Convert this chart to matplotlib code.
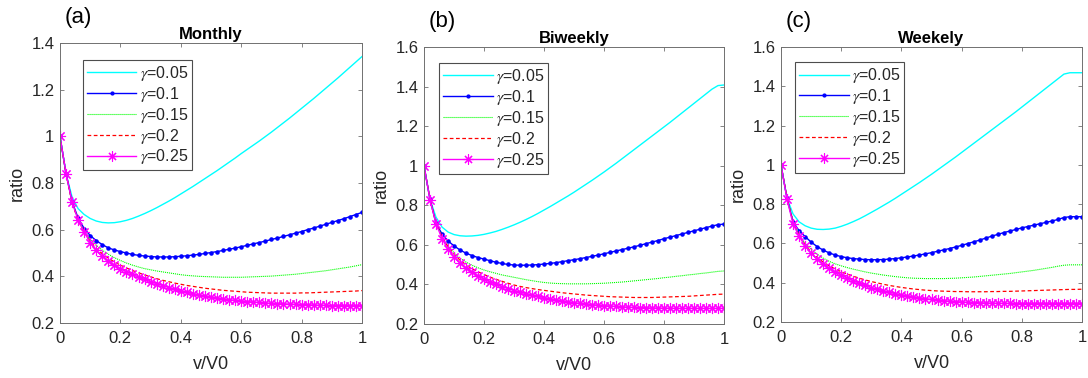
import numpy as np
import matplotlib
matplotlib.use("Agg")
import matplotlib.pyplot as plt
from matplotlib.ticker import FuncFormatter

plt.rcParams['font.family'] = ['Liberation Sans', 'DejaVu Sans']
plt.rcParams['mathtext.fontset'] = 'stix'

# v/V0 sample grid (marker spacing 0.02)
x = np.linspace(0, 1, 51)

gammas = ["0.05", "0.1", "0.15", "0.2", "0.25"]
titles = ["Monthly", "Biweekly", "Weekely"]
panel_tags = ["(a)", "(b)", "(c)"]
xticks = [0, 0.2, 0.4, 0.6, 0.8, 1]
yticks_a = [0.2, 0.4, 0.6, 0.8, 1.0, 1.2, 1.4]
yticks_bc = [0.2, 0.4, 0.6, 0.8, 1.0, 1.2, 1.4, 1.6]

# ---------------- Panel (a) Monthly ----------------
a_g005 = [1.000, 0.840, 0.740, 0.690, 0.665, 0.648, 0.637, 0.631, 0.629, 0.630,
          0.634, 0.640, 0.648, 0.658, 0.669, 0.681, 0.694, 0.708, 0.722, 0.737,
          0.753, 0.769, 0.785, 0.802, 0.819, 0.836, 0.853, 0.871, 0.889, 0.907,
          0.926, 0.944, 0.962, 0.980, 0.999, 1.018, 1.038, 1.058, 1.078, 1.099,
          1.120, 1.141, 1.162, 1.184, 1.206, 1.228, 1.250, 1.273, 1.296, 1.319,
          1.342]
a_g010 = [1.000, 0.840, 0.720, 0.650, 0.605, 0.575, 0.553, 0.536, 0.522, 0.513,
          0.506, 0.500, 0.494, 0.490, 0.487, 0.485, 0.483, 0.483, 0.483, 0.484,
          0.486, 0.488, 0.491, 0.494, 0.498, 0.502, 0.506, 0.511, 0.516, 0.521,
          0.527, 0.533, 0.539, 0.545, 0.551, 0.558, 0.564, 0.571, 0.578, 0.585,
          0.592, 0.600, 0.607, 0.615, 0.623, 0.631, 0.639, 0.647, 0.656, 0.665,
          0.674]
a_g015 = [1.000, 0.840, 0.717, 0.643, 0.595, 0.560, 0.533, 0.512, 0.495, 0.480,
          0.468, 0.457, 0.448, 0.440, 0.433, 0.428, 0.423, 0.419, 0.415, 0.411,
          0.407, 0.404, 0.402, 0.400, 0.399, 0.398, 0.397, 0.396, 0.396, 0.396,
          0.396, 0.397, 0.398, 0.399, 0.400, 0.401, 0.403, 0.405, 0.407, 0.409,
          0.412, 0.415, 0.418, 0.421, 0.424, 0.428, 0.432, 0.436, 0.440, 0.445,
          0.450]
a_g020 = [1.000, 0.840, 0.715, 0.640, 0.590, 0.550, 0.520, 0.497, 0.478, 0.462,
          0.448, 0.436, 0.425, 0.415, 0.406, 0.398, 0.390, 0.383, 0.377, 0.371,
          0.366, 0.361, 0.357, 0.353, 0.349, 0.346, 0.343, 0.340, 0.338, 0.336,
          0.334, 0.332, 0.331, 0.330, 0.329, 0.328, 0.328, 0.328, 0.328, 0.328,
          0.329, 0.329, 0.330, 0.331, 0.332, 0.333, 0.334, 0.335, 0.336, 0.337,
          0.339]
a_g025 = [1.000, 0.840, 0.719, 0.640, 0.590, 0.545, 0.511, 0.487, 0.466, 0.447,
          0.433, 0.420, 0.408, 0.397, 0.387, 0.377, 0.368, 0.360, 0.352, 0.344,
          0.337, 0.331, 0.325, 0.320, 0.315, 0.311, 0.307, 0.303, 0.300, 0.297,
          0.294, 0.292, 0.290, 0.288, 0.286, 0.284, 0.283, 0.282, 0.281, 0.280,
          0.279, 0.278, 0.277, 0.276, 0.276, 0.275, 0.275, 0.275, 0.274, 0.274,
          0.274]

# ---------------- Panel (b) Biweekly ----------------
b_g005 = [1.000, 0.830, 0.740, 0.690, 0.665, 0.652, 0.646, 0.644, 0.645, 0.648,
          0.653, 0.660, 0.668, 0.678, 0.689, 0.701, 0.714, 0.728, 0.743, 0.759,
          0.776, 0.793, 0.811, 0.829, 0.847, 0.866, 0.886, 0.906, 0.926, 0.947,
          0.968, 0.990, 1.012, 1.035, 1.058, 1.081, 1.104, 1.127, 1.150, 1.173,
          1.196, 1.219, 1.243, 1.267, 1.291, 1.315, 1.339, 1.363, 1.387, 1.405,
          1.408]
b_g010 = [1.000, 0.830, 0.710, 0.655, 0.620, 0.595, 0.574, 0.558, 0.546, 0.536,
          0.528, 0.520, 0.512, 0.506, 0.501, 0.498, 0.497, 0.497, 0.498, 0.500,
          0.503, 0.506, 0.510, 0.515, 0.520, 0.525, 0.530, 0.536, 0.542, 0.548,
          0.555, 0.562, 0.569, 0.576, 0.583, 0.590, 0.598, 0.606, 0.614, 0.622,
          0.631, 0.639, 0.647, 0.655, 0.663, 0.671, 0.679, 0.687, 0.695, 0.702,
          0.705]
b_g015 = [1.000, 0.830, 0.710, 0.640, 0.595, 0.560, 0.533, 0.513, 0.497, 0.484,
          0.473, 0.464, 0.456, 0.448, 0.442, 0.436, 0.430, 0.424, 0.419, 0.414,
          0.410, 0.407, 0.405, 0.404, 0.403, 0.403, 0.403, 0.403, 0.404, 0.405,
          0.406, 0.408, 0.410, 0.412, 0.415, 0.418, 0.421, 0.424, 0.427, 0.430,
          0.434, 0.437, 0.441, 0.444, 0.448, 0.451, 0.455, 0.458, 0.462, 0.466,
          0.468]
b_g020 = [1.000, 0.830, 0.710, 0.640, 0.590, 0.553, 0.523, 0.499, 0.480, 0.464,
          0.450, 0.437, 0.426, 0.416, 0.406, 0.397, 0.390, 0.384, 0.379, 0.374,
          0.370, 0.366, 0.362, 0.358, 0.355, 0.352, 0.349, 0.346, 0.344, 0.342,
          0.340, 0.338, 0.337, 0.336, 0.335, 0.334, 0.334, 0.334, 0.334, 0.335,
          0.336, 0.337, 0.338, 0.339, 0.340, 0.342, 0.344, 0.346, 0.348, 0.350,
          0.351]
b_g025 = [1.000, 0.828, 0.707, 0.632, 0.577, 0.540, 0.508, 0.483, 0.462, 0.443,
          0.427, 0.413, 0.400, 0.389, 0.379, 0.369, 0.361, 0.353, 0.346, 0.339,
          0.333, 0.327, 0.322, 0.317, 0.312, 0.308, 0.304, 0.301, 0.298, 0.295,
          0.293, 0.291, 0.289, 0.287, 0.285, 0.284, 0.283, 0.282, 0.281, 0.281,
          0.280, 0.280, 0.279, 0.279, 0.279, 0.279, 0.279, 0.279, 0.279, 0.279,
          0.279]

# ---------------- Panel (c) Weekly ----------------
c_g005 = [1.000, 0.830, 0.750, 0.710, 0.690, 0.678, 0.672, 0.671, 0.673, 0.678,
          0.687, 0.698, 0.711, 0.725, 0.741, 0.758, 0.775, 0.793, 0.811, 0.830,
          0.850, 0.870, 0.890, 0.910, 0.931, 0.952, 0.974, 0.996, 1.018, 1.040,
          1.063, 1.086, 1.109, 1.132, 1.155, 1.178, 1.201, 1.224, 1.247, 1.270,
          1.294, 1.318, 1.342, 1.366, 1.390, 1.414, 1.438, 1.462, 1.469, 1.469,
          1.469]
c_g010 = [1.000, 0.830, 0.710, 0.665, 0.635, 0.607, 0.584, 0.566, 0.552, 0.541,
          0.533, 0.527, 0.523, 0.520, 0.518, 0.517, 0.517, 0.518, 0.520, 0.523,
          0.527, 0.531, 0.536, 0.541, 0.547, 0.553, 0.560, 0.567, 0.574, 0.582,
          0.590, 0.599, 0.608, 0.617, 0.627, 0.637, 0.646, 0.655, 0.663, 0.671,
          0.679, 0.686, 0.693, 0.700, 0.707, 0.714, 0.722, 0.732, 0.736, 0.736,
          0.736]
c_g015 = [1.000, 0.830, 0.710, 0.645, 0.600, 0.570, 0.545, 0.525, 0.509, 0.496,
          0.486, 0.477, 0.469, 0.462, 0.455, 0.449, 0.444, 0.439, 0.435, 0.431,
          0.428, 0.425, 0.423, 0.422, 0.421, 0.421, 0.421, 0.421, 0.422, 0.423,
          0.425, 0.427, 0.429, 0.432, 0.435, 0.438, 0.441, 0.444, 0.447, 0.451,
          0.455, 0.459, 0.463, 0.468, 0.473, 0.478, 0.484, 0.489, 0.491, 0.491,
          0.491]
c_g020 = [1.000, 0.830, 0.710, 0.640, 0.593, 0.557, 0.528, 0.505, 0.486, 0.470,
          0.456, 0.444, 0.433, 0.423, 0.414, 0.406, 0.399, 0.392, 0.386, 0.381,
          0.376, 0.372, 0.368, 0.365, 0.362, 0.360, 0.358, 0.357, 0.356, 0.355,
          0.355, 0.354, 0.354, 0.354, 0.354, 0.355, 0.355, 0.356, 0.356, 0.357,
          0.358, 0.359, 0.360, 0.361, 0.362, 0.363, 0.364, 0.365, 0.366, 0.366,
          0.367]
c_g025 = [1.000, 0.825, 0.700, 0.637, 0.587, 0.550, 0.520, 0.494, 0.473, 0.455,
          0.439, 0.424, 0.410, 0.397, 0.386, 0.375, 0.366, 0.358, 0.351, 0.344,
          0.338, 0.333, 0.328, 0.323, 0.319, 0.315, 0.312, 0.309, 0.306, 0.304,
          0.302, 0.300, 0.299, 0.298, 0.297, 0.296, 0.295, 0.295, 0.295, 0.294,
          0.294, 0.294, 0.294, 0.294, 0.294, 0.294, 0.294, 0.294, 0.294, 0.294,
          0.294]

panels = [
    [a_g005, a_g010, a_g015, a_g020, a_g025],
    [b_g005, b_g010, b_g015, b_g020, b_g025],
    [c_g005, c_g010, c_g015, c_g020, c_g025],
]
for p in panels:
    for s in p:
        if len(s) != len(x):
            raise ValueError("length mismatch %d" % len(s))

styles = [
    dict(color='#00ffff', linestyle='-', linewidth=1.0),
    dict(color='#0000ff', linestyle='-', linewidth=1.0, marker='.', markersize=4.5),
    dict(color='#00ff00', linestyle=(0, (1, 0.8)), linewidth=0.8),
    dict(color='#ff0000', linestyle=(0, (3, 2)), linewidth=0.9),
    dict(color='#ff00ff', linestyle='-', linewidth=1.0, marker=(8, 2, 0),
         markersize=8, markeredgewidth=0.8),
]

# axes rectangles in pixels: (left, top, right, bottom)
W, H = 1088, 378
rects = [(60, 43, 362, 323), (424, 47, 724, 324), (781, 47, 1082, 322)]
legend_anchor = [(0.076, 0.94), (0.05, 0.942), (0.047, 0.945)]
ylims = [(0.2, 1.4), (0.2, 1.6), (0.2, 1.6)]
yticks_all = [yticks_a, yticks_bc, yticks_bc]
tag_pos = [(65, 17), (429, 21), (786, 21)]

text_color = '#262626'
spine_color = '#707070'

fig = plt.figure(figsize=(W / 100, H / 100), dpi=100)
fmt = FuncFormatter(lambda v, p: ('%g' % round(v, 2)))

for i in range(3):
    l, t, r, b = rects[i]
    ax = fig.add_axes([l / W, 1 - b / H, (r - l) / W, (b - t) / H])
    for j, s in enumerate(panels[i]):
        ax.plot(x, s, label=r'$\gamma$=' + gammas[j], **styles[j])
    ax.set_xlim(0, 1)
    ax.set_ylim(*ylims[i])
    ax.set_xticks(xticks)
    ax.set_yticks(yticks_all[i])
    ax.xaxis.set_major_formatter(fmt)
    ax.yaxis.set_major_formatter(fmt)
    ax.tick_params(direction='in', length=3, width=0.6, top=True, right=True,
                   labelsize=12, colors=spine_color, labelcolor=text_color)
    ax.tick_params(axis='x', pad=6)
    ax.tick_params(axis='y', pad=4)
    for sp in ax.spines.values():
        sp.set_color(spine_color)
        sp.set_linewidth(0.7)
    ax.set_title(titles[i], fontsize=12, fontweight='bold', color='black', pad=3)
    ax.set_xlabel('v/V0', fontsize=13, color=text_color, labelpad=7)
    ax.set_ylabel('ratio', fontsize=13, color=text_color, labelpad=4)
    leg = ax.legend(loc='upper left', bbox_to_anchor=legend_anchor[i],
                    fontsize=11.5, handlelength=3.1, handletextpad=0.2,
                    labelspacing=0.12, borderpad=0.25, borderaxespad=0.0,
                    fancybox=False, framealpha=1, edgecolor='#4d4d4d',
                    markerscale=0.9)
    leg.get_frame().set_linewidth(0.8)
    for txt in leg.get_texts():
        txt.set_color(text_color)
    fig.text(tag_pos[i][0] / W, 1 - tag_pos[i][1] / H, panel_tags[i],
             fontsize=16, color='black', va='center', ha='left')

fig.savefig('out.png', dpi=100)
